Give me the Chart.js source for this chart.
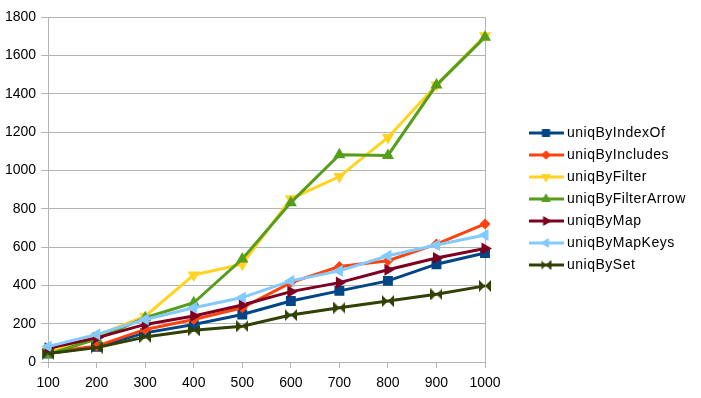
<!DOCTYPE html>
<html>
<head>
<meta charset="utf-8">
<script src="https://cdn.jsdelivr.net/npm/chart.js@4"></script>
<style>
html, body { margin: 0; padding: 0; background: #fff; }
#wrap { width: 701px; height: 398px; position: relative; }
</style>
</head>
<body>
<div id="wrap"><canvas id="chart"></canvas></div>
<script>
// x axis categories
const sizes = ['100', '200', '300', '400', '500', '600', '700', '800', '900', '1000'];

// series values
const uniqByIndexOf     = [45, 80, 153, 197, 249, 319, 372, 424, 511, 569];
const uniqByIncludes    = [50, 84, 171, 223, 284, 415, 499, 529, 616, 721];
const uniqByFilter      = [55, 138, 240, 455, 511, 852, 968, 1172, 1445, 1702];
const uniqByFilterArrow = [42, 121, 232, 310, 538, 832, 1082, 1078, 1445, 1695];
const uniqByMap         = [72, 127, 197, 241, 298, 368, 415, 482, 543, 593];
const uniqByMapKeys     = [82, 145, 223, 284, 337, 424, 476, 555, 611, 663];
const uniqBySet         = [45, 76, 131, 166, 188, 246, 284, 319, 354, 398];

const yTicks = [0, 200, 400, 600, 800, 1000, 1200, 1400, 1600, 1800];

const names  = ['uniqByIndexOf', 'uniqByIncludes', 'uniqByFilter', 'uniqByFilterArrow', 'uniqByMap', 'uniqByMapKeys', 'uniqBySet'];
const values = [uniqByIndexOf, uniqByIncludes, uniqByFilter, uniqByFilterArrow, uniqByMap, uniqByMapKeys, uniqBySet];
const colors = ['#004586', '#ff420e', '#ffd320', '#579d1c', '#7e0021', '#83caff', '#314004'];

// marker shapes: [pointStyle, rotation, radius]
const markers = [
    ['rect', 0, 7],
    ['rectRot', 0, 5.5],
    ['triangle', 180, 7],
    ['triangle', 0, 7],
    ['triangle', 90, 7],
    ['triangle', -90, 7],
    ['bowtie', 0, 6]
];

const FONT = { family: 'Liberation Sans', size: 14 };
const LEGEND_W = 216;     // space kept for the legend on the right
const LEGEND_SHIFT = 39;  // gap between plot and legend symbols

// bowtie marker (two triangles pointing at each other) as a small canvas
function bowtie(color, size) {
    const c = document.createElement('canvas');
    c.width = size; c.height = size;
    const g = c.getContext('2d');
    g.fillStyle = color;
    g.beginPath();
    g.moveTo(0, 0); g.lineTo(size / 2, size / 2); g.lineTo(0, size); g.closePath();
    g.moveTo(size, 0); g.lineTo(size / 2, size / 2); g.lineTo(size, size); g.closePath();
    g.fill();
    return c;
}

// legend symbol: a short line with the marker in the middle
function legendIcon(i) {
    const w = 35, h = 14;
    const c = document.createElement('canvas');
    c.width = w; c.height = h;
    const g = c.getContext('2d');
    g.strokeStyle = colors[i];
    g.lineWidth = 3;
    g.beginPath();
    g.moveTo(0, h / 2); g.lineTo(w, h / 2);
    g.stroke();
    const [style, rot] = markers[i];
    if (style === 'bowtie') {
        g.drawImage(bowtie(colors[i], 10), w / 2 - 5, h / 2 - 5);
    } else {
        g.fillStyle = colors[i];
        Chart.helpers.drawPoint(g, {pointStyle: style, rotation: rot, radius: style === 'rectRot' ? 4.5 : 5.5, borderWidth: 0}, w / 2, h / 2);
        g.fill();
    }
    return c;
}

const datasets = names.map((name, i) => {
    const [style, rot, r] = markers[i];
    return {
        label: name,
        data: values[i],
        borderColor: colors[i],
        backgroundColor: colors[i],
        borderWidth: 3,
        pointStyle: style === 'bowtie' ? bowtie(colors[i], 12) : style,
        rotation: rot,
        pointRadius: r,
        pointBorderWidth: 0,
        tension: 0,
        order: names.length - i
    };
});

// legend: fixed width box, symbols moved away from the plot
const legendPlacer = {
    id: 'legendPlacer',
    afterInit(chart) {
        const lg = chart.legend;
        const fit = lg.fit;
        lg.fit = function () {
            fit.call(this);
            this.width = LEGEND_W;
        };
        const draw = lg.draw;
        lg.draw = function () {
            const ctx = this.ctx;
            const old = ctx.letterSpacing;
            ctx.letterSpacing = '0.5px';
            draw.apply(this, arguments);
            ctx.letterSpacing = old || '0px';
        };
    },
    afterLayout(chart) {
        const lg = chart.legend;
        lg.left += LEGEND_SHIFT;
        lg.top -= 9;
        lg.bottom -= 9;
    }
};

new Chart(document.getElementById('chart'), {
    type: 'line',
    data: { labels: sizes, datasets: datasets },
    plugins: [legendPlacer],
    options: {
        responsive: true,
        maintainAspectRatio: false,
        animation: false,
        events: [],
        layout: { padding: { top: 17, right: 0, left: 0, bottom: -1 } },
        plugins: {
            tooltip: { enabled: false },
            legend: {
                position: 'right',
                labels: {
                    usePointStyle: true,
                    pointStyleWidth: 28,
                    boxHeight: 14,
                    padding: 8,
                    color: '#000',
                    font: FONT,
                    generateLabels: chart => names.map((name, i) => ({
                        text: name,
                        datasetIndex: i,
                        pointStyle: legendIcon(i),
                        fillStyle: colors[i],
                        strokeStyle: colors[i],
                        lineWidth: 0,
                        hidden: false,
                        fontColor: '#000'
                    }))
                }
            }
        },
        scales: {
            x: {
                offset: false,
                grid: {
                    color: ctx => ctx.index === sizes.length - 1 ? '#b3b3b3' : 'rgba(0,0,0,0)',
                    tickColor: '#b3b3b3',
                    tickLength: 6,
                    lineWidth: 1
                },
                border: { color: '#b3b3b3' },
                ticks: {
                    color: '#000',
                    font: FONT,
                    maxRotation: 0,
                    padding: 7
                }
            },
            y: {
                min: yTicks[0],
                max: yTicks[yTicks.length - 1],
                afterBuildTicks: axis => { axis.ticks = yTicks.map(v => ({ value: v })); },
                grid: { color: '#b3b3b3', tickColor: '#b3b3b3', tickLength: 7 },
                border: { color: '#b3b3b3' },
                ticks: {
                    color: '#000',
                    font: FONT,
                    padding: 5,
                    callback: v => String(v)
                }
            }
        }
    }
});
</script>
</body>
</html>
